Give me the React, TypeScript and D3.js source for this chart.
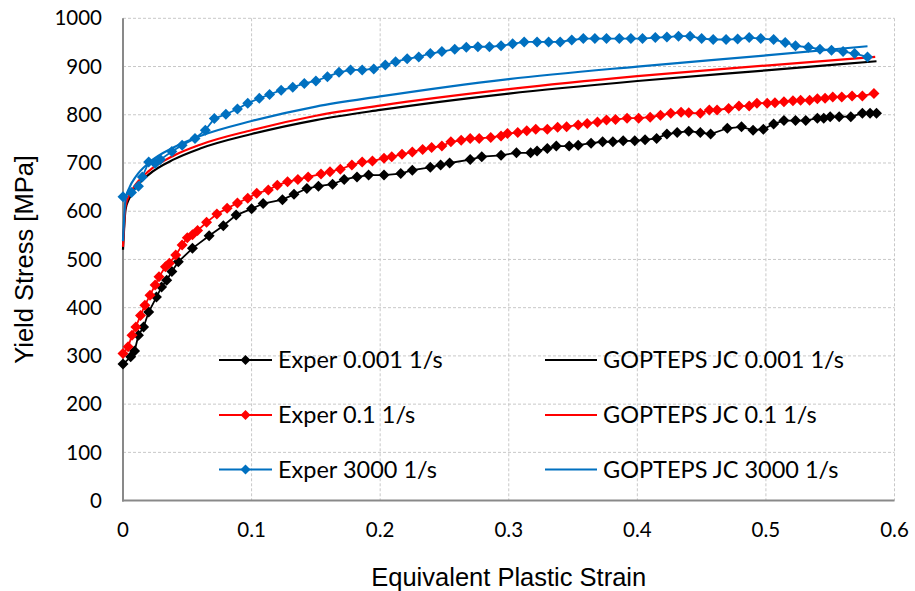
import React from "react";
import * as d3 from "d3";

// Experimental flow curves: [equivalent plastic strain, yield stress MPa]
const exper0001: [number, number][] = [
  [0.0, 283], [0.006, 298], [0.009, 310], [0.012, 343], [0.016, 360], [0.02, 391], [0.026, 422],
  [0.03, 443], [0.034, 457], [0.038, 475], [0.043, 495], [0.054, 523], [0.067, 549], [0.078, 570],
  [0.088, 592], [0.1, 605], [0.109, 616], [0.124, 624], [0.133, 635], [0.143, 647], [0.152, 652],
  [0.163, 656], [0.172, 666], [0.182, 671], [0.191, 675], [0.203, 675], [0.216, 678], [0.225, 685],
  [0.239, 691], [0.247, 696], [0.254, 700], [0.27, 707], [0.279, 713], [0.294, 716], [0.306, 721],
  [0.317, 721], [0.322, 725], [0.33, 730], [0.337, 735], [0.347, 735], [0.354, 737], [0.364, 741],
  [0.373, 744], [0.381, 744], [0.389, 746], [0.398, 746], [0.406, 748], [0.415, 751], [0.423, 760],
  [0.431, 763], [0.44, 766], [0.449, 763], [0.457, 760], [0.47, 772], [0.481, 775], [0.49, 768],
  [0.498, 770], [0.506, 781], [0.514, 788], [0.523, 788], [0.531, 788], [0.54, 793], [0.545, 793],
  [0.55, 796], [0.557, 796], [0.566, 796], [0.575, 803], [0.581, 803], [0.586, 803],
];

const exper01: [number, number][] = [
  [0.0, 305], [0.004, 319], [0.007, 343], [0.01, 360], [0.0136, 384], [0.017, 405], [0.021, 426],
  [0.025, 447], [0.028, 464], [0.033, 485], [0.036, 492], [0.041, 509], [0.046, 530], [0.05, 545],
  [0.054, 551], [0.058, 560], [0.065, 577], [0.073, 594], [0.081, 606], [0.089, 617], [0.097, 627],
  [0.104, 637], [0.113, 644], [0.12, 654], [0.128, 661], [0.136, 666], [0.144, 671], [0.154, 677],
  [0.161, 682], [0.169, 687], [0.178, 696], [0.186, 702], [0.194, 704], [0.203, 710], [0.209, 713],
  [0.217, 718], [0.225, 723], [0.233, 728], [0.24, 732], [0.248, 735], [0.255, 744], [0.263, 747],
  [0.27, 751], [0.277, 751], [0.286, 753], [0.294, 756], [0.299, 761], [0.307, 763], [0.314, 767],
  [0.321, 770], [0.33, 770], [0.338, 774], [0.345, 775], [0.354, 779], [0.361, 782], [0.369, 785],
  [0.376, 789], [0.383, 790], [0.392, 793], [0.401, 793], [0.41, 795], [0.418, 799], [0.426, 803],
  [0.434, 805], [0.44, 804], [0.449, 803], [0.456, 810], [0.462, 810], [0.471, 813], [0.479, 818],
  [0.487, 818], [0.493, 824], [0.501, 824], [0.507, 825], [0.514, 827], [0.521, 829], [0.527, 830],
  [0.534, 830], [0.54, 833], [0.546, 834], [0.552, 837], [0.559, 837], [0.567, 839], [0.575, 839],
  [0.584, 844],
];

const exper3000: [number, number][] = [
  [0.0, 630], [0.0066, 639], [0.012, 652], [0.015, 671], [0.02, 702], [0.025, 699], [0.029, 707],
  [0.038, 724], [0.046, 737], [0.056, 751], [0.064, 768], [0.071, 792], [0.08, 801], [0.089, 812],
  [0.097, 824], [0.106, 834], [0.114, 842], [0.123, 851], [0.132, 857], [0.141, 865], [0.15, 870],
  [0.159, 879], [0.168, 888], [0.177, 893], [0.186, 893], [0.195, 895], [0.204, 903], [0.212, 910],
  [0.221, 916], [0.23, 920], [0.239, 927], [0.248, 931], [0.258, 936], [0.267, 940], [0.276, 941],
  [0.285, 941], [0.294, 943], [0.303, 947], [0.312, 951], [0.322, 951], [0.331, 951], [0.34, 951],
  [0.349, 955], [0.358, 958], [0.367, 958], [0.376, 958], [0.386, 958], [0.395, 958], [0.404, 958],
  [0.414, 960], [0.423, 961], [0.432, 963], [0.441, 963], [0.45, 958], [0.459, 956], [0.469, 956],
  [0.478, 957], [0.487, 960], [0.496, 958], [0.506, 956], [0.515, 950], [0.523, 943], [0.533, 940],
  [0.542, 936], [0.551, 934], [0.56, 931], [0.569, 927], [0.579, 920],
];

// Johnson-Cook model curves
const jc0001: [number, number][] = [
  [0.0, 520], [0.002, 604], [0.005, 627], [0.01, 649], [0.02, 676], [0.04, 708], [0.06, 730],
  [0.1, 760], [0.15, 789], [0.2, 810], [0.3, 844], [0.4, 870], [0.5, 892], [0.586, 911],
];
const jc01: [number, number][] = [
  [0.0, 526], [0.002, 611], [0.005, 634], [0.01, 656], [0.02, 683], [0.04, 716], [0.06, 738],
  [0.1, 768], [0.15, 798], [0.2, 819], [0.3, 853], [0.4, 880], [0.5, 902], [0.585, 920],
];
const jc3000: [number, number][] = [
  [0.0, 538], [0.002, 625], [0.005, 649], [0.01, 672], [0.02, 700], [0.04, 733], [0.06, 756],
  [0.1, 787], [0.15, 817], [0.2, 838], [0.3, 874], [0.4, 900], [0.5, 923], [0.579, 942],
];

const xTicks = [0, 0.1, 0.2, 0.3, 0.4, 0.5, 0.6];
const yTicks = [0, 100, 200, 300, 400, 500, 600, 700, 800, 900, 1000];

const BLACK = "#000000";
const RED = "#FF0000";
const BLUE = "#0070C0";

type Series = { name: string; data: [number, number][]; color: string; markers: boolean };

const seriesList: Series[] = [
  { name: "Exper 0.001 1/s", data: exper0001, color: BLACK, markers: true },
  { name: "GOPTEPS JC 0.001 1/s", data: jc0001, color: BLACK, markers: false },
  { name: "Exper 0.1 1/s", data: exper01, color: RED, markers: true },
  { name: "GOPTEPS JC 0.1 1/s", data: jc01, color: RED, markers: false },
  { name: "Exper 3000 1/s", data: exper3000, color: BLUE, markers: true },
  { name: "GOPTEPS JC 3000 1/s", data: jc3000, color: BLUE, markers: false },
];

const W = 915;
const H = 591;
const left = 123;
const right = 894.5;
const top = 18.3;
const bottom = 500.6;

const x = d3.scaleLinear().domain([0, 0.6]).range([left, right]);
const y = d3.scaleLinear().domain([0, 1000]).range([bottom, top]);

const diamond = (cx: number, cy: number, r: number) =>
  `M${cx},${cy - r}L${cx + r},${cy}L${cx},${cy + r}L${cx - r},${cy}Z`;

const tickFont = "Lato, 'Open Sans', sans-serif";
const titleFont = "'Liberation Sans', Arial, sans-serif";

export default function App() {
  const linearPath = d3
    .line<[number, number]>()
    .x((d) => x(d[0]))
    .y((d) => y(d[1]));
  const smoothPath = d3
    .line<[number, number]>()
    .x((d) => x(d[0]))
    .y((d) => y(d[1]))
    .curve(d3.curveMonotoneX);

  // legend: two columns (experiments | model), three rows
  const legendRows = [360, 415, 469.5];
  const legendCols = [
    { x0: 219, x1: 272, tx: 278 },
    { x0: 545, x1: 597, tx: 603 },
  ];

  return (
    <svg
      width={W}
      height={H}
      style={{ position: "absolute", left: 0, top: 0, background: "#fff" }}
    >
      <rect x={0} y={0} width={W} height={H} fill="#fff" />
      {/* grid */}
      <g stroke="#c8c8c8" strokeWidth={1} strokeDasharray="3,2">
        {yTicks.slice(1).map((t) => (
          <line key={`gy${t}`} x1={left} x2={right} y1={y(t)} y2={y(t)} />
        ))}
        {xTicks.slice(1).map((t) => (
          <line key={`gx${t}`} x1={x(t)} x2={x(t)} y1={top} y2={bottom} />
        ))}
      </g>
      {/* axes */}
      <g stroke="#898989" strokeWidth={2}>
        <line x1={left} x2={left} y1={top} y2={bottom + 1} />
        <line x1={left - 1} x2={right} y1={bottom} y2={bottom} />
      </g>
      {/* tick labels */}
      <g fontFamily={tickFont} fontSize={20.5} fill="#000">
        {yTicks.map((t) => (
          <text key={`ty${t}`} x={102} y={y(t)} dy="0.35em" textAnchor="end">
            {t}
          </text>
        ))}
        {xTicks.map((t) => (
          <text key={`tx${t}`} x={x(t)} y={530} dy="0.35em" textAnchor="middle">
            {t}
          </text>
        ))}
      </g>
      {/* axis titles */}
      <text
        x={(left + right) / 2}
        y={586}
        textAnchor="middle"
        fontFamily={titleFont}
        fontSize={25.5}
        fill="#000"
      >
        Equivalent Plastic Strain
      </text>
      <text
        transform={`translate(33, ${(top + bottom) / 2}) rotate(-90)`}
        textAnchor="middle"
        fontFamily={titleFont}
        fontSize={25.5}
        fill="#000"
      >
        Yield Stress [MPa]
      </text>
      {/* series */}
      {seriesList.map((s) => (
        <g key={s.name}>
          <path
            d={(s.markers ? linearPath : smoothPath)(s.data) || ""}
            fill="none"
            stroke={s.color}
            strokeWidth={s.markers ? 1.8 : 2.2}
          />
          {s.markers &&
            s.data.map((d, i) => (
              <path key={i} d={diamond(x(d[0]), y(d[1]), 5.5)} fill={s.color} />
            ))}
        </g>
      ))}
      {/* legend */}
      <g fontFamily={tickFont} fontSize={23.5} fill="#000">
        {seriesList.map((s, i) => {
          const col = legendCols[i % 2];
          const cy = legendRows[Math.floor(i / 2)];
          return (
            <g key={`lg${s.name}`}>
              <line x1={col.x0} x2={col.x1} y1={cy} y2={cy} stroke={s.color} strokeWidth={2} />
              {s.markers && (
                <path d={diamond((col.x0 + col.x1) / 2, cy, 5)} fill={s.color} />
              )}
              <text x={col.tx} y={cy} dy="0.36em">
                {s.name}
              </text>
            </g>
          );
        })}
      </g>
    </svg>
  );
}
